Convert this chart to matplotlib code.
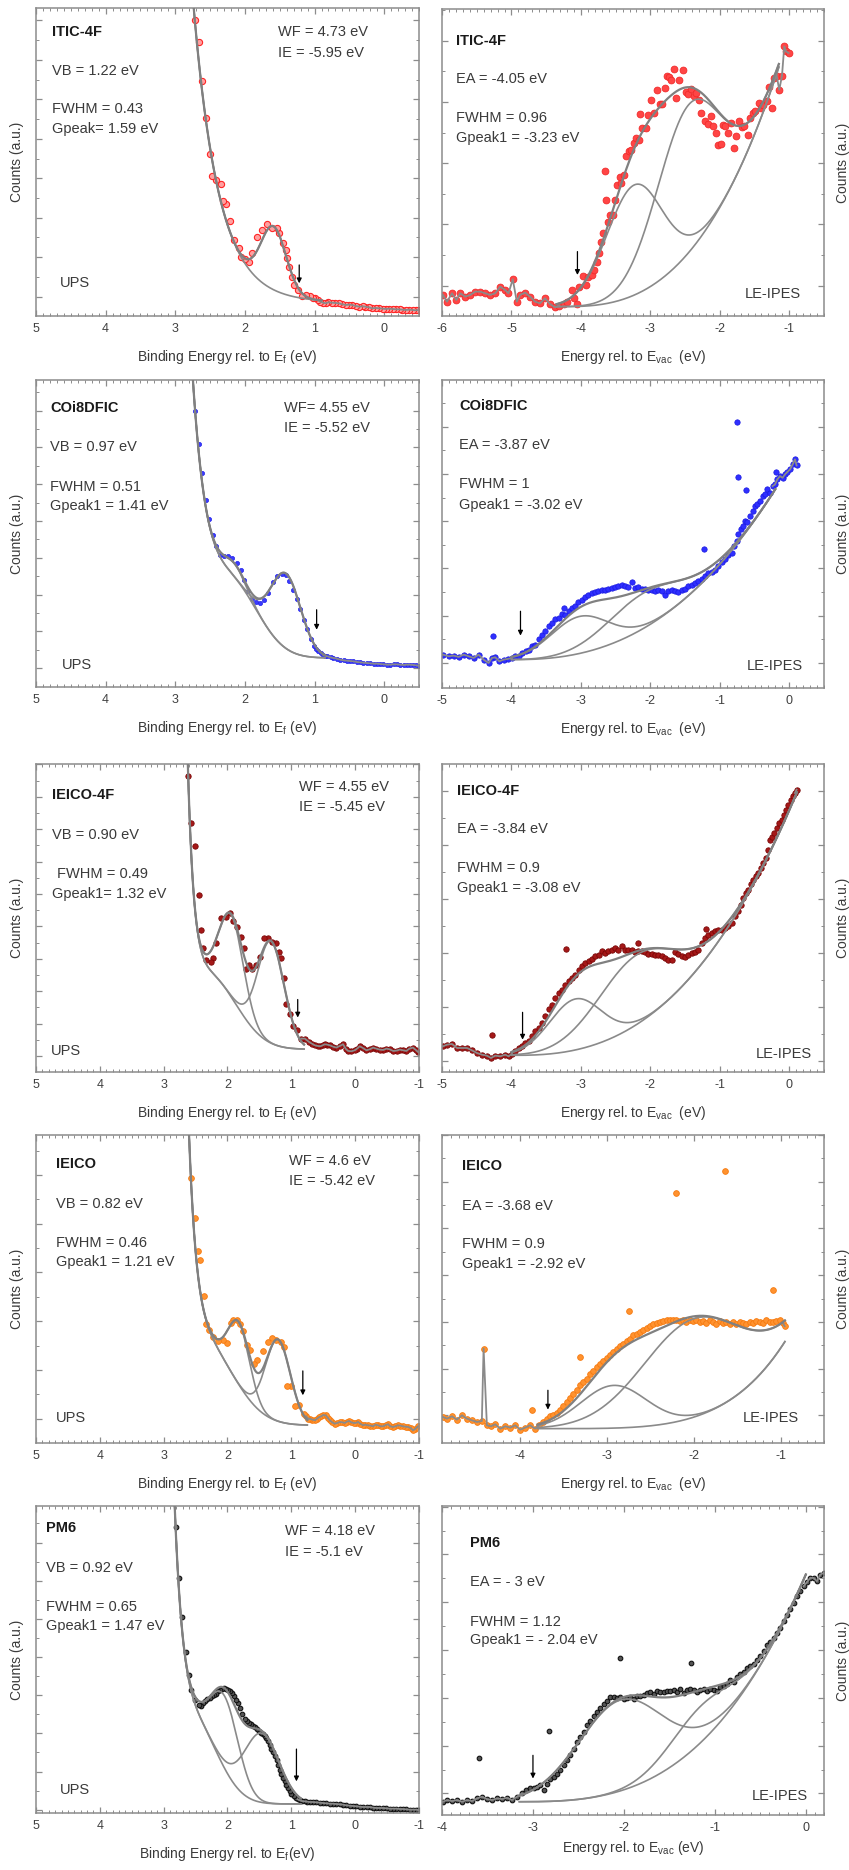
import numpy as np
import matplotlib
matplotlib.use("Agg")
import matplotlib.pyplot as plt
from matplotlib.ticker import MultipleLocator, FixedLocator

plt.rcParams["font.family"] = ["Liberation Sans", "DejaVu Sans"]
plt.rcParams["axes.unicode_minus"] = False
plt.rcParams["mathtext.default"] = "regular"

# =====================================================================
# Spectra (binding energy / energy in eV, counts in arbitrary units)
# =====================================================================

# ---------------- ITIC-4F ----------------
itic_ups_e = [2.72, 2.66, 2.61, 2.56, 2.50, 2.47, 2.41, 2.35, 2.31, 2.27, 2.22, 2.16, 2.09, 2.06, 2.00,
              1.94, 1.90, 1.82, 1.76, 1.68, 1.61, 1.54, 1.51, 1.45, 1.41, 1.39, 1.37, 1.33, 1.29, 1.24,
              1.18, 1.12, 1.06, 1.02, 0.99, 0.95, 0.92, 0.88, 0.84, 0.80, 0.75, 0.70, 0.65, 0.60, 0.55,
              0.50, 0.46, 0.41, 0.36, 0.31, 0.27, 0.22, 0.17, 0.12, 0.07, 0.02, -0.02, -0.07, -0.12,
              -0.17, -0.22, -0.26, -0.31, -0.36, -0.41, -0.45, -0.49]
itic_ups_counts = [886, 820, 704, 592, 486, 420, 408, 396, 346, 336, 286, 228, 203, 178, 170,
                   163, 188, 238, 258, 276, 263, 265, 248, 218, 198, 173, 148, 118, 93, 78,
                   60, 63, 60, 55, 53, 48, 43, 40, 38, 41, 40, 39, 38, 35, 33,
                   34, 33, 30, 28, 29, 28, 26, 23, 24, 23, 22, 21, 22, 21,
                   20, 20, 19, 18, 19, 18, 17, 18]
itic_vb = 1.22
itic_wf = 4.73
itic_ie = -5.95
itic_ups_base = 41.0
itic_ups_edge = [846.0, 2.72, 2.75]          # amplitude, reference energy, rate
itic_ups_hump = [0.0, 2.0, 0.5]              # amplitude, centre, sigma
itic_ups_peaks = [[1.59, 0.43, 190.0]]       # centre, FWHM, amplitude

itic_ipes_e = [-5.986, -5.928, -5.856, -5.794, -5.737, -5.665, -5.593, -5.522, -5.450, -5.378,
               -5.306, -5.234, -5.163, -5.091, -5.043, -4.981, -4.923, -4.876, -4.804, -4.732,
               -4.660, -4.589, -4.517, -4.445, -4.373, -4.311, -4.244,
               -4.206, -4.134, -4.100, -4.062, -4.024, -3.967, -3.933, -3.895, -3.847, -3.813,
               -3.775, -3.737, -3.713, -3.689, -3.656, -3.632, -3.608, -3.574, -3.545, -3.512,
               -3.478, -3.440, -3.416, -3.383, -3.344, -3.306, -3.273, -3.234, -3.201, -3.167,
               -3.144, -3.115, -3.067, -3.029, -2.986, -2.952, -2.904, -2.866, -2.828, -2.794,
               -2.761, -2.732, -2.699, -2.660, -2.627, -2.589, -2.531, -2.493, -2.459, -2.411,
               -2.378, -2.340, -2.301, -2.268, -2.220, -2.172, -2.124, -2.091, -2.053, -2.019,
               -1.981, -1.957, -1.919, -1.885, -1.837, -1.799, -1.766, -1.718, -1.679, -1.646,
               -1.598, -1.565, -1.526, -1.488, -1.440, -1.407, -1.373, -1.325, -1.287, -1.249,
               -1.215, -1.182, -1.144, -1.105, -1.072, -1.048, -1.010]
itic_ipes_counts = [63, 43, 68, 48, 68, 58, 63, 73, 73, 68,
                    63, 68, 88, 78, 68, 110, 43, 63, 70, 58,
                    43, 38, 53, 36, 26, 30, 36,
                    43, 78, 53, 36, 88, 120, 93, 118, 123, 138,
                    163, 188, 221, 248, 436, 348, 283, 303, 303, 348,
                    393, 418, 398, 423, 480, 493, 498, 518, 533, 528,
                    606, 563, 563, 603, 648, 608, 676, 636, 636, 683,
                    720, 716, 708, 740, 653, 708, 736, 670, 666, 680,
                    658, 668, 648, 608, 583, 576, 600, 568, 548, 513,
                    516, 573, 568, 548, 578, 503, 538, 583, 566, 568,
                    543, 593, 608, 613, 638, 623, 633, 643, 686, 623,
                    713, 720, 678, 720, 808, 793, 788]
itic_stray_e = []
itic_stray_counts = []
itic_ea = -4.05
itic_ipes_bg = [28.0, -4.30, 28.9, 2.8]      # base, onset, amplitude, power
itic_ipes_peaks = [[-3.23, 0.96, 330.0], [-2.45, 1.10, 443.0]]

# ---------------- COi8DFIC ----------------
coi_ups_e = [2.716, 2.663, 2.615, 2.562, 2.510, 2.462, 2.414, 2.356, 2.299, 2.237,
             2.179, 2.117, 2.059, 2.007, 1.949, 1.892, 1.839, 1.782, 1.724, 1.662,
             1.600, 1.533, 1.471, 1.408, 1.360, 1.312, 1.255, 1.207, 1.149, 1.102,
             1.054, 1.006, 0.975, 0.944, 0.910, 0.881, 0.850, 0.814, 0.770, 0.728,
             0.680, 0.632, 0.580, 0.536, 0.490, 0.441, 0.390, 0.345, 0.300, 0.249,
             0.200, 0.153, 0.100, 0.057, 0.010, -0.038, -0.090, -0.134, -0.180, -0.230,
             -0.280, -0.326, -0.370, -0.421, -0.460, -0.493]
coi_ups_counts = [829, 730, 642, 562, 504, 457, 424, 397, 392, 392,
                  387, 372, 350, 322, 287, 264, 254, 252, 262, 282,
                  314, 334, 340, 337, 317, 292, 264, 234, 202, 174,
                  144, 124, 115, 107, 101, 97, 94, 92, 89, 87,
                  85, 82, 80, 79, 78, 77, 75, 74, 73, 72,
                  71, 70, 70, 69, 68, 67, 67, 68, 68, 67,
                  66, 67, 67, 66, 65, 64]
coi_vb = 0.97
coi_ups_base = 87.0
coi_ups_edge = [680.0, 2.716, 4.39]
coi_ups_hump = [187.0, 2.16, 0.38]
coi_ups_peaks = [[1.41, 0.51, 225.0], [2.15, 0.35, 40.0]]

coi_ipes_e = [-4.986, -4.904, -4.832, -4.760, -4.688, -4.616, -4.545, -4.473, -4.401, -4.329,
              -4.281, -4.233, -4.175, -4.113, -4.056, -3.993, -3.945, -3.897, -3.849, -3.787,
              -3.754, -3.706, -3.658, -3.610, -3.562, -3.514, -3.466, -3.418, -3.370, -3.322,
              -3.274, -3.226, -3.178, -3.130, -3.083, -3.035, -2.987, -2.939, -2.891, -2.843,
              -2.795, -2.747, -2.699, -2.651, -2.603, -2.555, -2.508, -2.460, -2.412, -2.364,
              -2.316, -2.268, -2.220, -2.172, -2.124, -2.076, -2.028, -1.980, -1.932, -1.884,
              -1.836, -1.788, -1.740, -1.693, -1.645, -1.597, -1.549, -1.501, -1.453, -1.405,
              -1.357, -1.309, -1.261, -1.213, -1.165, -1.117, -1.069, -1.021, -0.973, -0.925,
              -0.878, -0.830, -0.796, -0.758, -0.734, -0.700, -0.671, -0.638, -0.604, -0.566,
              -0.527, -0.494, -0.460, -0.422, -0.384, -0.350, -0.316, -0.278, -0.240, -0.206,
              -0.173, -0.134, -0.096, -0.062, -0.029, 0.010, 0.048, 0.082, 0.105]
coi_ipes_counts = [100, 95, 97, 93, 100, 95, 90, 100, 85, 75,
                   90, 92, 80, 85, 87, 90, 95, 97, 105, 110,
                   115, 127, 130, 147, 160, 170, 185, 195, 207, 210,
                   223, 220, 230, 240, 247, 257, 265, 273, 280, 285,
                   287, 290, 295, 295, 297, 300, 302, 305, 309, 305,
                   302, 317, 300, 303, 297, 297, 295, 293, 290, 295,
                   292, 280, 290, 295, 292, 287, 293, 297, 305, 310,
                   315, 320, 327, 335, 345, 347, 355, 365, 377, 387,
                   400, 405, 425, 440, 462, 475, 485, 500, 498, 515,
                   530, 545, 550, 560, 575, 580, 595, 585, 605, 610,
                   625, 635, 630, 640, 647, 655, 670, 685, 667]
coi_stray_e = [-4.267, -3.250, -1.227, -0.758, -0.734, -0.628, -0.192]
coi_stray_counts = [155, 240, 418, 798, 633, 592, 648]
coi_ea = -3.87
coi_ipes_bg = [85.0, -4.0, 19.4, 2.45]
coi_ipes_peaks = [[-3.02, 1.0, 111.0], [-2.10, 1.30, 106.0]]

# ---------------- IEICO-4F ----------------
ie4f_ups_e = [2.616, 2.564, 2.511, 2.454, 2.417, 2.381, 2.329, 2.266, 2.224, 2.183,
              2.094, 2.026, 1.963, 1.911, 1.849, 1.791, 1.739, 1.703, 1.661, 1.609,
              1.557, 1.494, 1.431, 1.364, 1.296, 1.243, 1.191, 1.155, 1.118, 1.087,
              1.024, 0.972, 0.910, 0.842, 0.790, 0.722, 0.633, 0.545, 0.477, 0.398,
              0.294, 0.190, 0.111, 0.007, -0.071, -0.176, -0.280, -0.384, -0.489, -0.593,
              -0.697, -0.802, -0.906, -0.984,
              0.68, 0.59, 0.51, 0.44, 0.35, 0.24, 0.15, 0.06, -0.03, -0.12,
              -0.23, -0.33, -0.44, -0.54, -0.65, -0.75, -0.85, -0.95]
ie4f_ups_counts = [885, 745, 677, 530, 425, 370, 335, 330, 340, 385,
                   460, 465, 475, 453, 433, 405, 370, 307, 320, 307,
                   320, 345, 400, 400, 390, 385, 360, 340, 280, 203,
                   173, 137, 127, 100, 100, 90, 80, 77, 83, 80,
                   73, 83, 63, 65, 77, 65, 73, 67, 70, 63,
                   67, 63, 73, 60,
                   85, 78, 80, 82, 76, 78, 70, 62, 70, 72,
                   68, 70, 66, 68, 64, 65, 70, 66]
ie4f_vb = 0.90
ie4f_ups_base = 68.0
ie4f_ups_edge = [649.0, 2.616, 10.0]
ie4f_ups_hump = [217.0, 2.30, 0.442]
ie4f_ups_peaks = [[1.32, 0.49, 305.0], [1.94, 0.45, 245.0]]

ie4f_ipes_e = [-4.986, -4.928, -4.856, -4.784, -4.712, -4.640, -4.569, -4.497, -4.425, -4.353,
               -4.295, -4.233, -4.161, -4.089, -4.041, -3.993, -3.945,
               -3.897, -3.849, -3.801, -3.753, -3.705, -3.657, -3.609, -3.561, -3.513, -3.466,
               -3.418, -3.370, -3.322, -3.274, -3.226, -3.178, -3.130, -3.082, -3.034, -2.986,
               -2.938, -2.890, -2.842, -2.794, -2.746, -2.698, -2.651, -2.603, -2.555, -2.507,
               -2.459, -2.411, -2.363, -2.315, -2.267, -2.219, -2.171, -2.123, -2.075, -2.027,
               -1.979, -1.931, -1.883, -1.836, -1.788, -1.740, -1.692, -1.644, -1.596, -1.548,
               -1.500, -1.452, -1.404, -1.356, -1.308, -1.260, -1.213, -1.165, -1.117, -1.069,
               -1.021, -0.973, -0.925, -0.877, -0.829, -0.781,
               -0.733, -0.700, -0.662, -0.623, -0.590, -0.556, -0.518, -0.479, -0.446, -0.412,
               -0.374, -0.336, -0.302, -0.278, -0.254, -0.221, -0.182, -0.144, -0.110, -0.077,
               -0.048, -0.014, 0.019, 0.048, 0.082, 0.105]
ie4f_ipes_counts = [77, 82, 84, 72, 72, 72, 65, 57, 52, 49,
                    42, 49, 47, 52, 47, 55, 62,
                    72, 79, 87, 92, 107, 122, 132, 147, 167, 189,
                    202, 222, 237, 245, 262, 272, 282, 292, 305, 317,
                    327, 334, 339, 347, 352, 362, 357, 362, 367, 372,
                    367, 379, 367, 365, 367, 359, 362, 362, 359, 355,
                    355, 352, 352, 347, 342, 337, 337, 359, 355, 347,
                    345, 352, 357, 359, 367, 387, 402, 412, 417, 422,
                    427, 427, 432, 439, 447, 467,
                    482, 502, 522, 537, 547, 565, 577, 587, 597, 612,
                    627, 642, 667, 697, 705, 717, 732, 747, 757, 772,
                    787, 802, 815, 827, 837, 847]
ie4f_stray_e = [-4.281, -3.212, -2.172, -1.198]
ie4f_stray_counts = [112, 370, 387, 430]
ie4f_ea = -3.84
ie4f_ipes_bg = [50.0, -4.0, 20.0, 2.6]
ie4f_ipes_peaks = [[-3.08, 0.9, 153.0], [-2.20, 1.37, 209.0]]

# ---------------- IEICO ----------------
ieico_ups_e = [2.574, 2.506, 2.464, 2.428, 2.365, 2.329, 2.287, 2.224, 2.146, 2.068,
               2.005, 1.953, 1.911, 1.849, 1.807, 1.755, 1.692, 1.640, 1.588, 1.536,
               1.442, 1.364, 1.296, 1.233, 1.155, 1.118, 1.066, 0.998, 0.946, 0.884,
               0.805, 0.737, 0.670, 0.597, 0.529, 0.461, 0.398, 0.320, 0.242, 0.163,
               0.096, 0.023, -0.045, -0.123, -0.202, -0.280, -0.358, -0.436, -0.515, -0.593,
               -0.671, -0.749, -0.828, -0.906, -0.984,
               0.77, 0.70, 0.63, 0.56, 0.50, 0.43, 0.36, 0.28, 0.20, 0.13,
               0.06, -0.01, -0.08, -0.16, -0.24, -0.32, -0.40, -0.48, -0.55, -0.63,
               -0.71, -0.79, -0.87, -0.94]
ieico_ups_counts = [795, 673, 576, 548, 440, 356, 340, 318, 306, 308,
                    300, 360, 370, 370, 356, 336, 293, 280, 238, 250,
                    276, 303, 316, 308, 303, 288, 170, 170, 110, 113,
                    88, 73, 70, 73, 80, 83, 68, 58, 63, 60,
                    66, 60, 63, 53, 53, 50, 53, 50, 56, 48,
                    53, 50, 48, 38, 50,
                    80, 72, 68, 78, 84, 76, 62, 60, 62, 64,
                    62, 60, 58, 55, 52, 55, 50, 54, 50, 50,
                    52, 49, 45, 42]
ieico_vb = 0.82
ieico_ups_base = 53.0
ieico_ups_edge = [519.0, 2.574, 8.0]
ieico_ups_hump = [240.0, 2.39, 0.484]
ieico_ups_peaks = [[1.21, 0.46, 245.0], [1.82, 0.40, 186.0]]

ieico_ipes_e = [-4.889, -4.843, -4.785, -4.728, -4.670, -4.613, -4.556, -4.498, -4.441, -4.421,
                -4.383, -4.337, -4.287, -4.230, -4.172, -4.115, -4.057, -4.000, -3.943, -3.885,
                -3.828, -3.778,
                -3.732, -3.693, -3.655, -3.617, -3.579, -3.540, -3.502, -3.464, -3.425, -3.387,
                -3.349, -3.310, -3.272, -3.234, -3.195, -3.157, -3.119, -3.080, -3.042, -3.004,
                -2.966, -2.927, -2.889, -2.851, -2.812, -2.774, -2.736, -2.697, -2.659, -2.621,
                -2.582, -2.544, -2.506, -2.467, -2.429, -2.391, -2.352, -2.314, -2.276, -2.238,
                -2.199, -2.161, -2.123, -2.084, -2.046, -2.008, -1.969, -1.931, -1.893, -1.854,
                -1.816, -1.778, -1.739, -1.701, -1.663, -1.625, -1.586, -1.548, -1.510, -1.471,
                -1.433, -1.395, -1.356, -1.318, -1.280, -1.241, -1.203, -1.165, -1.126, -1.088,
                -1.050, -1.011, -0.973, -0.954]
ieico_ipes_counts = [78, 73, 80, 70, 83, 73, 68, 63, 66, 283,
                     53, 50, 56, 43, 50, 46, 53, 40, 46, 53,
                     43, 53,
                     63, 73, 80, 83, 90, 100, 110, 123, 136, 148,
                     160, 173, 183, 193, 206, 216, 228, 238, 246, 256,
                     263, 273, 283, 290, 298, 306, 313, 323, 328, 333,
                     338, 345, 350, 356, 360, 363, 366, 368, 368, 370,
                     368, 366, 370, 363, 368, 366, 368, 363, 366, 360,
                     368, 363, 358, 366, 360, 363, 356, 363, 358, 363,
                     360, 356, 363, 360, 366, 363, 360, 368, 363, 363,
                     366, 368, 360, 350]
ieico_stray_e = [-3.866, -3.310, -2.743, -2.199, -1.644, -1.088]
ieico_stray_counts = [100, 258, 396, 748, 816, 458]
ieico_ea = -3.68
ieico_ipes_bg = [43.0, -3.9, 1.8, 4.6]
ieico_ipes_peaks = [[-2.92, 0.9, 128.0], [-2.00, 1.41, 295.0]]

# ---------------- PM6 ----------------
pm6_ups_e = [2.814, 2.762, 2.710, 2.652, 2.610, 2.564, 2.511, 2.449, 2.381, 2.318,
             2.250, 2.183, 2.120, 2.057, 1.990, 1.937, 1.870, 1.807, 1.729, 1.661,
             1.598, 1.536, 1.468, 1.416, 1.364, 1.311, 1.259, 1.207, 1.155, 1.103,
             1.050, 0.998, 0.930, 0.868, 0.790, 0.711, 0.607, 0.503, 0.398, 0.294,
             0.190, 0.085, -0.019, -0.123, -0.228, -0.332, -0.436, -0.541, -0.645, -0.749,
             -0.854, -0.958,
             2.42, 2.35, 2.28, 2.21, 2.15, 2.09, 2.02, 1.96, 1.90, 1.84,
             1.77, 1.70, 1.63, 1.57, 1.50, 1.44, 1.39, 1.34, 1.28, 1.23,
             1.18, 1.13, 1.08, 1.02, 0.96, 0.90, 0.83, 0.75, 0.66, 0.55,
             0.45, 0.35, 0.24, 0.14, 0.03, -0.07, -0.18, -0.28, -0.38, -0.49,
             -0.59, -0.70, -0.80, -0.91, -0.99]
pm6_ups_counts = [860, 705, 588, 485, 415, 370, 340, 325, 330, 342,
                  350, 358, 370, 374, 370, 360, 340, 315, 282, 270,
                  262, 252, 240, 230, 215, 192, 170, 145, 118, 95,
                  75, 58, 45, 38, 35, 33, 32, 30, 28, 27,
                  25, 22, 20, 18, 18, 15, 15, 13, 13, 12,
                  10, 10,
                  322, 335, 345, 355, 365, 372, 373, 366, 352, 330,
                  298, 276, 266, 258, 246, 236, 224, 205, 182, 158,
                  130, 106, 85, 66, 50, 41, 36, 34, 33, 31,
                  29, 28, 26, 23, 21, 19, 18, 16, 15, 14,
                  13, 12, 11, 10, 9]
pm6_vb = 0.92
pm6_ups_base = 27.0
pm6_ups_edge = [681.0, 2.814, 6.9]
pm6_ups_hump = [217.0, 2.50, 0.374]
pm6_ups_peaks = [[1.47, 0.65, 208.0], [2.04, 0.52, 217.0]]

pm6_ipes_e = [-3.989, -3.945, -3.890, -3.835, -3.780, -3.725, -3.670, -3.615, -3.560, -3.505,
              -3.450, -3.395, -3.340, -3.285, -3.230, -3.176, -3.121,
              -3.073, -3.029, -2.992, -2.956, -2.919, -2.875, -2.846,
              -2.809, -2.772, -2.736, -2.699, -2.663, -2.626, -2.589, -2.553, -2.516, -2.479,
              -2.443, -2.406, -2.369, -2.333, -2.296, -2.259, -2.223, -2.186, -2.150, -2.113,
              -2.076, -2.040, -2.003, -1.966, -1.930, -1.893, -1.856, -1.820, -1.783, -1.746,
              -1.710, -1.673, -1.637, -1.600, -1.563, -1.527, -1.490, -1.453, -1.417, -1.380,
              -1.343, -1.307, -1.270, -1.233, -1.197, -1.160, -1.123, -1.087, -1.050, -1.014,
              -0.977, -0.940, -0.904, -0.867, -0.830, -0.794, -0.757, -0.720, -0.684, -0.647,
              -0.610, -0.574, -0.537, -0.501, -0.464, -0.427, -0.391, -0.354, -0.317, -0.281,
              -0.244, -0.207, -0.171, -0.134, -0.097, -0.061, -0.024, 0.012, 0.049, 0.086,
              0.122, 0.159, 0.196]
pm6_ipes_counts = [40, 45, 42, 45, 40, 45, 42, 50, 55, 48,
                   45, 50, 48, 52, 45, 55, 65,
                   75, 82, 80, 85, 90, 75, 95,
                   110, 115, 125, 135, 152, 165, 180, 200, 220, 235,
                   250, 270, 285, 298, 312, 322, 335, 345, 355, 357,
                   352, 355, 350, 352, 355, 350, 358, 360, 362, 368,
                   372, 365, 375, 370, 372, 375, 375, 378, 372, 380,
                   368, 378, 380, 378, 372, 378, 380, 375, 380, 378,
                   375, 385, 390, 395, 408, 400, 415, 425, 430, 442,
                   450, 455, 468, 480, 495, 512, 522, 535, 550, 565,
                   585, 602, 622, 640, 660, 675, 690, 702, 715, 715,
                   705, 725, 730]
pm6_stray_e = [-3.597, -2.827, -2.040, -1.263]
pm6_stray_counts = [172, 252, 473, 457]
pm6_ea = -3.0
pm6_ipes_bg = [40.0, -3.2, 20.9, 3.0]
pm6_ipes_peaks = [[-2.04, 1.12, 274.0], [-1.15, 0.85, 110.0]]


# =====================================================================
# Fit model
# =====================================================================
def gauss(x, centre, fwhm, amp):
    sig = fwhm / (2.0 * np.sqrt(2.0 * np.log(2.0)))
    return amp * np.exp(-0.5 * ((x - centre) / sig) ** 2)


def ups_background(base, edge, hump):
    a, ref, rate = edge
    ha, hc, hs = hump
    return lambda x: base + a * np.exp(rate * (x - ref)) + ha * np.exp(-0.5 * ((x - hc) / hs) ** 2)


def ipes_background(params):
    base, onset, amp, power = params
    return lambda x: base + amp * np.clip(x - onset, 0.0, None) ** power


# =====================================================================
# Styling
# =====================================================================
FIT_GREY = "#8a8a8a"
SPINE_GREY = "#8c8c8c"
TEXT = "#3a3a3a"
W, H = 849.0, 1870.0

fig = plt.figure(figsize=(W / 100, H / 100), dpi=100)


def make_axes(left, top, right, bottom):
    return fig.add_axes([left / W, 1 - bottom / H, (right - left) / W, (bottom - top) / H])


def style_axes(ax, xlim, ylim_top, ytick_first, ytick_step, side, xlabel, xlabel_y=-0.11):
    ax.set_xlim(*xlim)
    ax.set_ylim(0, ylim_top)
    ax.xaxis.set_major_locator(MultipleLocator(1))
    ax.xaxis.set_minor_locator(MultipleLocator(0.1))
    n = int((ylim_top - ytick_first) / ytick_step) + 1
    ticks = [ytick_first + ytick_step * k for k in range(n)]
    ax.yaxis.set_major_locator(FixedLocator(ticks[0::2]))
    ax.yaxis.set_minor_locator(FixedLocator(ticks[1::2]))
    ax.tick_params(axis="both", which="both", direction="in", top=True, right=True,
                   color=SPINE_GREY)
    ax.tick_params(which="major", length=4.5, width=0.9)
    ax.tick_params(which="minor", length=2.5, width=0.7)
    ax.tick_params(axis="y", labelleft=False, labelright=False)
    ax.tick_params(axis="x", labelsize=9, labelcolor="#404040", pad=5)
    for s in ax.spines.values():
        s.set_color(SPINE_GREY)
        s.set_linewidth(1.1)
    ax.set_xlabel(xlabel, fontsize=10, color=TEXT)
    ax.xaxis.label.set_va("center")
    ax.xaxis.set_label_coords(0.5, xlabel_y - 0.022)
    ax.set_ylabel("Counts (a.u.)", fontsize=10, color=TEXT)
    if side == "right":
        ax.yaxis.set_label_position("right")
        ax.yaxis.label.set_va("center")
        ax.yaxis.set_label_coords(1.05, 0.5)
    else:
        ax.yaxis.label.set_va("center")
        ax.yaxis.set_label_coords(-0.05, 0.5)


def draw_spectrum(ax, e, counts, stray_e, stray_c, background, peaks, fit_lo, fit_hi,
                  arrow_x, arrow_tail, arrow_tip, marker):
    e = np.asarray(e, float)
    c = np.asarray(counts, float)
    order = np.argsort(e)
    e, c = e[order], c[order]
    ax.scatter(e, c, zorder=2, **marker)
    if len(stray_e):
        ax.scatter(stray_e, stray_c, zorder=2, **marker)
    # raw trace outside the fitted window
    low = e <= fit_lo + 0.05
    if low.sum() > 1:
        ax.plot(e[low], c[low], color=FIT_GREY, lw=1.3, zorder=3)
    high = e >= fit_hi - 0.05
    if high.sum() > 1:
        ax.plot(e[high], c[high], color=FIT_GREY, lw=1.3, zorder=3)
    grid = np.linspace(fit_lo, fit_hi, 800)
    bg = background(grid)
    comps = [gauss(grid, *p) for p in peaks]
    ax.plot(grid, bg, color=FIT_GREY, lw=1.2, zorder=3)
    for g in comps:
        ax.plot(grid, bg + g, color=FIT_GREY, lw=1.2, zorder=3)
    ax.plot(grid, bg + np.sum(comps, axis=0), color="#808080", lw=1.6, zorder=4)
    ax.annotate("", xy=(arrow_x, arrow_tip), xytext=(arrow_x, arrow_tail),
                arrowprops=dict(arrowstyle="-|>", color="black", lw=0.9,
                                mutation_scale=7, shrinkA=0, shrinkB=0), zorder=5)


def add_texts(ax, items):
    for txt, x, y, kind in items:
        if kind == "name":
            ax.text(x, y, txt, transform=ax.transAxes, fontsize=10.5, fontweight="bold",
                    color="#1a1a1a", ha="left", va="center")
        elif kind == "right":
            ax.text(x, y, txt, transform=ax.transAxes, fontsize=10.5, color=TEXT,
                    ha="right", va="center")
        else:
            ax.text(x, y, txt, transform=ax.transAxes, fontsize=10.5, color=TEXT,
                    ha="left", va="center")


UPS_LABEL = r"Binding Energy rel. to E$_{f}$ (eV)"
IPES_LABEL = r"Energy rel. to E$_{vac}$  (eV)"

m_itic_ups = dict(s=20, facecolor="#ffa0a0", edgecolor="#ff2424", linewidths=0.8)
m_itic_ipes = dict(s=24, facecolor="#ff4545", edgecolor="#f02a2a", linewidths=0.6)
m_coi_ups = dict(s=9, facecolor="#3b3bff", edgecolor="#2020e8", linewidths=0.5)
m_coi_ipes = dict(s=15, facecolor="#2f2fff", edgecolor="#1818e0", linewidths=0.5)
m_ie4f = dict(s=15, facecolor="#a51818", edgecolor="#7a0606", linewidths=0.6)
m_ieico = dict(s=17, facecolor="#ff922f", edgecolor="#f57a10", linewidths=0.6)
m_pm6 = dict(s=11, facecolor="#555555", edgecolor="#111111", linewidths=0.8)

# ---------------- row 1: ITIC-4F ----------------
ax = make_axes(36, 8, 419, 316)
style_axes(ax, (5, -0.5), 923, 58, 59.14, "left", UPS_LABEL)
draw_spectrum(ax, itic_ups_e, itic_ups_counts, [], [],
              ups_background(itic_ups_base, itic_ups_edge, itic_ups_hump), itic_ups_peaks,
              0.9, 3.0, itic_vb, 153, 98, m_itic_ups)
add_texts(ax, [("ITIC-4F", 0.042, 0.922, "name"), ("VB = 1.22 eV", 0.042, 0.796, ""),
               ("FWHM = 0.43", 0.042, 0.671, ""), ("Gpeak= 1.59 eV", 0.042, 0.607, ""),
               ("WF = 4.73 eV", 0.631, 0.921, ""), ("IE = -5.95 eV", 0.631, 0.855, ""),
               ("UPS", 0.063, 0.106, "")])

ax = make_axes(442, 9, 824, 316)
style_axes(ax, (-6, -0.5), 920, 91, 91.7, "right", IPES_LABEL)
draw_spectrum(ax, itic_ipes_e, itic_ipes_counts, itic_stray_e, itic_stray_counts,
              ipes_background(itic_ipes_bg), itic_ipes_peaks,
              -4.35, -1.15, itic_ea, 193, 123, m_itic_ipes)
add_texts(ax, [("ITIC-4F", 0.037, 0.897, "name"), ("EA = -4.05 eV", 0.037, 0.771, ""),
               ("FWHM = 0.96", 0.037, 0.644, ""), ("Gpeak1 = -3.23 eV", 0.037, 0.581, ""),
               ("LE-IPES", 0.94, 0.072, "right")])

# ---------------- row 2: COi8DFIC ----------------
ax = make_axes(36, 380, 419, 687)
style_axes(ax, (5, -0.5), 922, 57, 55.2, "left", UPS_LABEL)
draw_spectrum(ax, coi_ups_e, coi_ups_counts, [], [],
              ups_background(coi_ups_base, coi_ups_edge, coi_ups_hump), coi_ups_peaks,
              0.85, 3.0, coi_vb, 232, 172, m_coi_ups)
add_texts(ax, [("COi8DFIC", 0.037, 0.908, "name"), ("VB = 0.97 eV", 0.037, 0.781, ""),
               ("FWHM = 0.51", 0.037, 0.653, ""), ("Gpeak1 = 1.41 eV", 0.037, 0.591, ""),
               ("WF= 4.55 eV", 0.648, 0.908, ""), ("IE = -5.52 eV", 0.648, 0.845, ""),
               ("UPS", 0.067, 0.072, "")])

ax = make_axes(442, 380, 824, 688)
style_axes(ax, (-5, 0.5), 923, 75, 70.8, "right", IPES_LABEL)
draw_spectrum(ax, coi_ipes_e, coi_ipes_counts, coi_stray_e, coi_stray_counts,
              ipes_background(coi_ipes_bg), coi_ipes_peaks,
              -4.0, -0.2, coi_ea, 230, 157, m_coi_ipes)
add_texts(ax, [("COi8DFIC", 0.045, 0.917, "name"), ("EA = -3.87 eV", 0.045, 0.789, ""),
               ("FWHM = 1", 0.045, 0.661, ""), ("Gpeak1 = -3.02 eV", 0.045, 0.594, ""),
               ("LE-IPES", 0.946, 0.071, "right")])

# ---------------- row 3: IEICO-4F ----------------
ax = make_axes(36, 764, 419, 1072)
style_axes(ax, (5, -1), 922, 48, 48.5, "left", UPS_LABEL)
draw_spectrum(ax, ie4f_ups_e, ie4f_ups_counts, [], [],
              ups_background(ie4f_ups_base, ie4f_ups_edge, ie4f_ups_hump), ie4f_ups_peaks,
              0.8, 2.9, ie4f_vb, 217, 163, m_ie4f)
add_texts(ax, [("IEICO-4F", 0.043, 0.899, "name"), ("VB = 0.90 eV", 0.043, 0.769, ""),
               ("FWHM = 0.49", 0.056, 0.643, ""), ("Gpeak1= 1.32 eV", 0.043, 0.578, ""),
               ("WF = 4.55 eV", 0.687, 0.926, ""), ("IE = -5.45 eV", 0.687, 0.861, ""),
               ("UPS", 0.039, 0.069, "")])

ax = make_axes(442, 764, 824, 1072)
style_axes(ax, (-5, 0.5), 924, 34, 81, "right", IPES_LABEL)
draw_spectrum(ax, ie4f_ipes_e, ie4f_ipes_counts, ie4f_stray_e, ie4f_stray_counts,
              ipes_background(ie4f_ipes_bg), ie4f_ipes_peaks,
              -4.0, 0.11, ie4f_ea, 179, 97, m_ie4f)
add_texts(ax, [("IEICO-4F", 0.04, 0.913, "name"), ("EA = -3.84 eV", 0.04, 0.789, ""),
               ("FWHM = 0.9", 0.04, 0.663, ""), ("Gpeak1 = -3.08 eV", 0.04, 0.598, ""),
               ("LE-IPES", 0.968, 0.058, "right")])

# ---------------- row 4: IEICO ----------------
ax = make_axes(36, 1135, 419, 1443)
style_axes(ax, (5, -1), 923, 73, 73, "left", UPS_LABEL)
draw_spectrum(ax, ieico_ups_e, ieico_ups_counts, [], [],
              ups_background(ieico_ups_base, ieico_ups_edge, ieico_ups_hump), ieico_ups_peaks,
              0.75, 2.9, ieico_vb, 216, 143, m_ieico)
add_texts(ax, [("IEICO", 0.052, 0.906, "name"), ("VB = 0.82 eV", 0.052, 0.776, ""),
               ("FWHM = 0.46", 0.052, 0.65, ""), ("Gpeak1 = 1.21 eV", 0.052, 0.587, ""),
               ("WF = 4.6 eV", 0.66, 0.916, ""), ("IE = -5.42 eV", 0.66, 0.851, ""),
               ("UPS", 0.052, 0.08, "")])

ax = make_axes(442, 1135, 824, 1443)
style_axes(ax, (-4.9, -0.5), 923, 83, 70, "right", IPES_LABEL)
draw_spectrum(ax, ieico_ipes_e, ieico_ipes_counts, ieico_stray_e, ieico_stray_counts,
              ipes_background(ieico_ipes_bg), ieico_ipes_peaks,
              -3.8, -0.95, ieico_ea, 158, 100, m_ieico)
add_texts(ax, [("IEICO", 0.052, 0.899, "name"), ("EA = -3.68 eV", 0.052, 0.770, ""),
               ("FWHM = 0.9", 0.052, 0.645, ""), ("Gpeak1 = -2.92 eV", 0.052, 0.581, ""),
               ("LE-IPES", 0.935, 0.08, "right")])

# ---------------- row 5: PM6 ----------------
ax = make_axes(36, 1506, 419, 1813)
style_axes(ax, (5, -1), 922, 10, 57.3, "left", r"Binding Energy rel. to E$_{f}$(eV)")
draw_spectrum(ax, pm6_ups_e, pm6_ups_counts, [], [],
              ups_background(pm6_ups_base, pm6_ups_edge, pm6_ups_hump), pm6_ups_peaks,
              0.85, 3.0, pm6_vb, 192, 95, m_pm6)
add_texts(ax, [("PM6", 0.025, 0.927, "name"), ("VB = 0.92 eV", 0.025, 0.799, ""),
               ("FWHM = 0.65", 0.025, 0.672, ""), ("Gpeak1 = 1.47 eV", 0.025, 0.61, ""),
               ("WF = 4.18 eV", 0.65, 0.917, ""), ("IE = -5.1 eV", 0.65, 0.851, ""),
               ("UPS", 0.063, 0.075, "")])

ax = make_axes(442, 1506, 824, 1815)
style_axes(ax, (-4, 0.2), 932, 65, 72.1, "right", r"Energy rel. to E$_{vac}$ (eV)",
           xlabel_y=-0.085)
draw_spectrum(ax, pm6_ipes_e, pm6_ipes_counts, pm6_stray_e, pm6_stray_counts,
              ipes_background(pm6_ipes_bg), pm6_ipes_peaks,
              -3.15, 0.0, pm6_ea, 180, 110, m_pm6)
add_texts(ax, [("PM6", 0.072, 0.881, "name"), ("EA = - 3 eV", 0.072, 0.755, ""),
               ("FWHM = 1.12", 0.072, 0.625, ""), ("Gpeak1 = - 2.04 eV", 0.072, 0.566, ""),
               ("LE-IPES", 0.959, 0.06, "right")])

fig.savefig("out.png", dpi=100)
